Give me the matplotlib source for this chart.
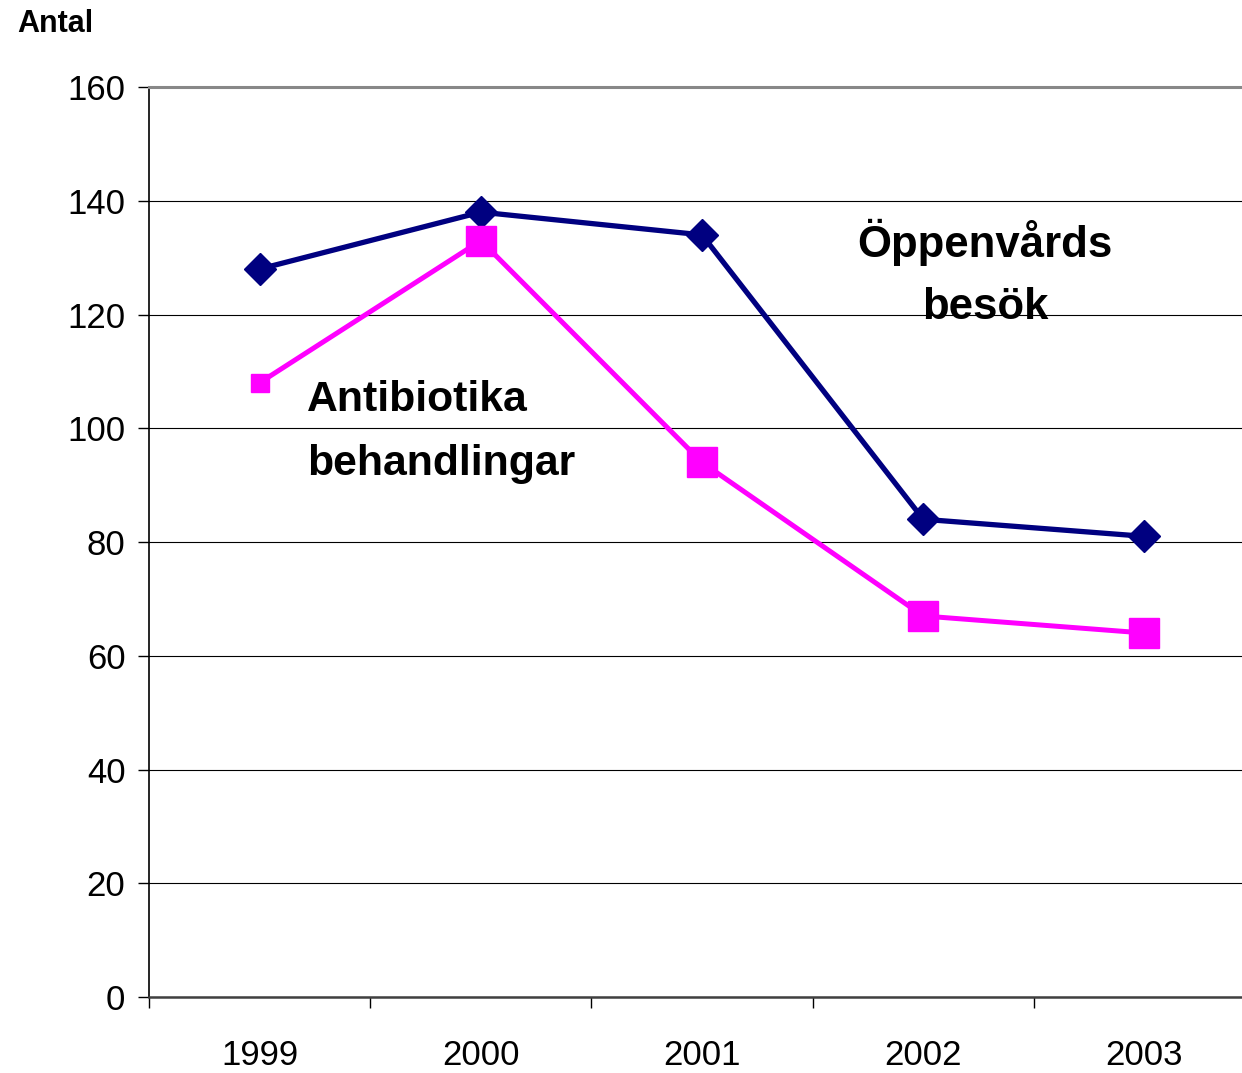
## -*- coding: utf-8 -*-

import numpy as np
import matplotlib
matplotlib.use('Agg')
import matplotlib.pyplot as plt
from matplotlib.ticker import FixedLocator

plt.rcParams['font.family'] = ['Liberation Sans', 'DejaVu Sans']

years = ['1999', '2000', '2001', '2002', '2003']
besok = [128, 138, 134, 84, 81]          # Öppenvårds besök
antibiotika = [108, 133, 94, 67, 64]     # Antibiotika behandlingar

fig = plt.figure(figsize=(12.42, 10.73), dpi=100)
# axes runs a bit past the right edge, like the original
ax = fig.add_axes([0.12, 0.0708, 0.8905, 0.8481])

x = np.arange(len(years))
ax.plot(x, besok, color='#000080', linewidth=3.8, marker='D',
        markersize=16, markeredgewidth=1, zorder=3)
ax.plot(x, antibiotika, color='#FF00FF', linewidth=3.6, zorder=3)
# first pink marker is smaller in the original
ax.plot(x[:1], antibiotika[:1], linestyle='none', marker='s', color='#FF00FF',
        markersize=13, zorder=4)
ax.plot(x[1:], antibiotika[1:], linestyle='none', marker='s', color='#FF00FF',
        markersize=21.5, zorder=4)

ax.set_xlim(-0.5, len(years) - 0.5)
ax.set_ylim(0, 160)
ax.set_yticks(np.arange(0, 161, 20))
ax.yaxis.grid(True, color='black', linewidth=0.8)
ax.set_axisbelow(True)

# category boundaries as ticks, labels centred between them
ax.xaxis.set_major_locator(FixedLocator(np.arange(-0.5, len(years), 1.0)))
ax.xaxis.set_minor_locator(FixedLocator(x))
ax.set_xticklabels([])
ax.set_xticks(x, years, minor=True)
ax.tick_params(axis='x', which='major', length=8, width=1, color='black', direction='out')
ax.tick_params(axis='x', which='minor', length=0, pad=30, labelsize=25)
ax.tick_params(axis='y', length=8, width=1, pad=9, labelsize=25)

ax.spines['left'].set_color('black')
ax.spines['left'].set_linewidth(1.2)
ax.spines['bottom'].set_color('#404040')
ax.spines['bottom'].set_linewidth(1.8)
ax.spines['top'].set_color('#888888')
ax.spines['top'].set_linewidth(2.2)
ax.spines['right'].set_visible(False)

fig.text(0.0135, 0.978, 'Antal', fontsize=22, fontweight='bold', va='center', ha='left')

ax.text(3.28, 132.6, 'Öppenvårds', fontsize=31.5, fontweight='bold', ha='center', va='center')
ax.text(3.28, 121.2, 'besök', fontsize=31.5, fontweight='bold', ha='center', va='center')
ax.text(0.215, 105.0, 'Antibiotika', fontsize=30.8, fontweight='bold', ha='left', va='center')
ax.text(0.215, 93.8, 'behandlingar', fontsize=30.8, fontweight='bold', ha='left', va='center')

plt.savefig('out.png', dpi=100)
